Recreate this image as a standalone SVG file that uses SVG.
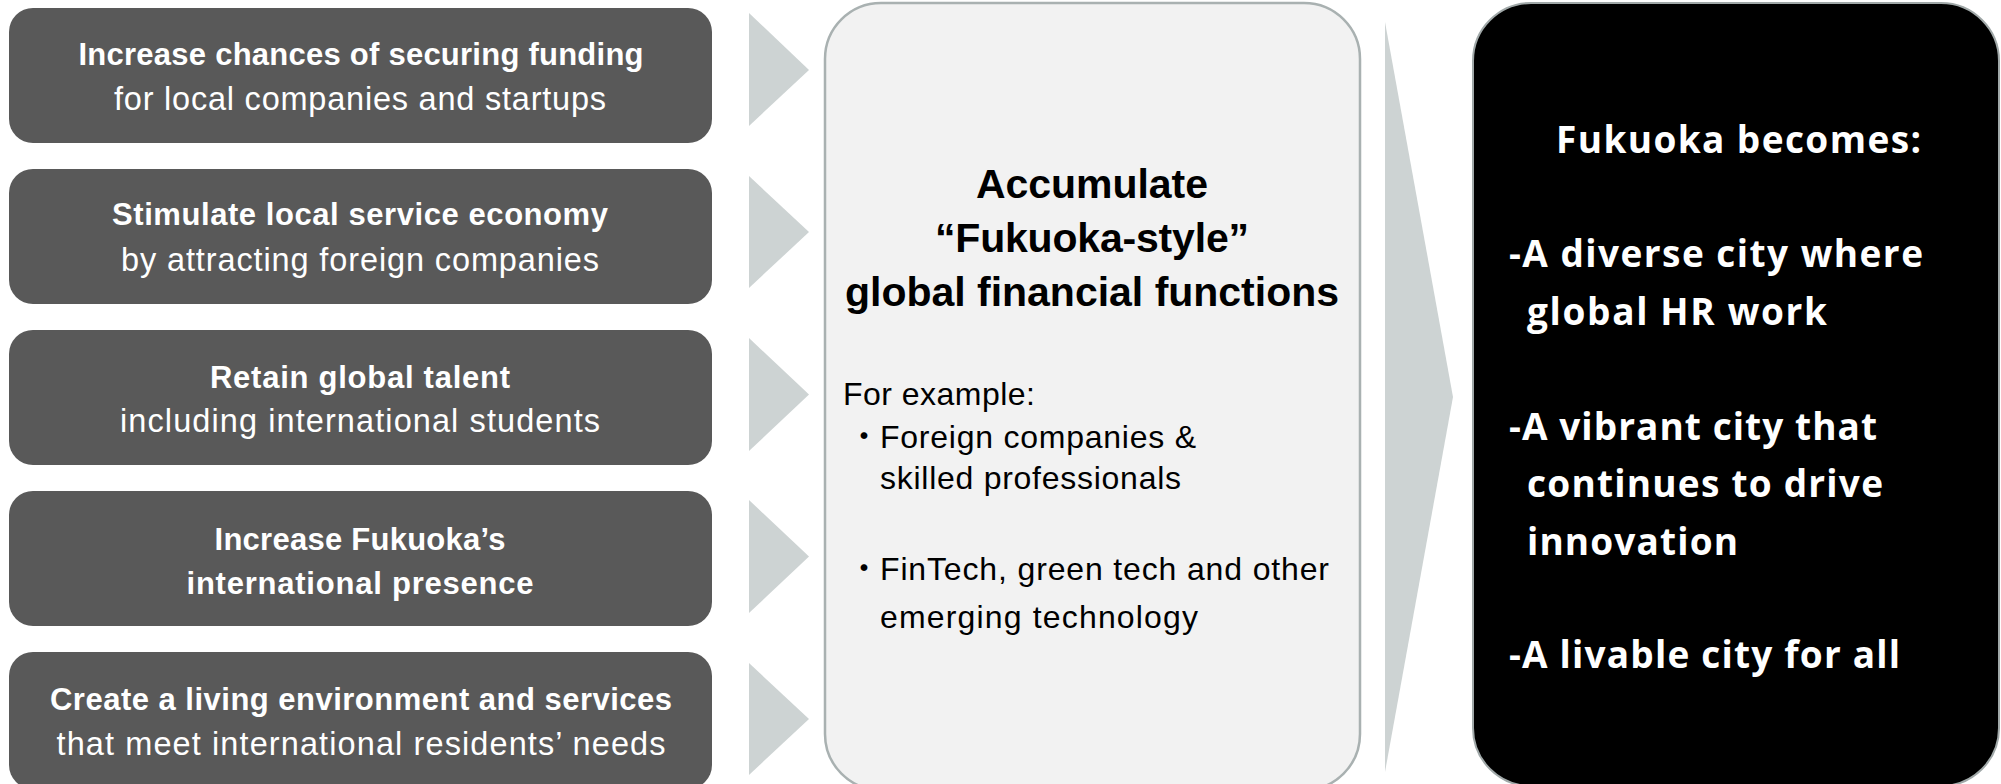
<svg xmlns="http://www.w3.org/2000/svg" width="2001" height="784" viewBox="0 0 2001 784">
<style>
.lbox{fill:#595959;}
.chev{fill:#CDD3D3;}
.lt{font-family:"Liberation Sans",Arial,sans-serif;font-size:32.5px;fill:#FFFFFF;text-anchor:middle;}
.b{font-weight:bold;font-size:31px;}
.mt{font-family:"Liberation Sans",Arial,sans-serif;font-size:41px;font-weight:bold;fill:#000000;text-anchor:middle;}
.mr{font-family:"Liberation Sans","Noto Sans CJK JP",Arial,sans-serif;font-size:32px;fill:#000000;}
.rt{font-family:"Open Sans","DejaVu Sans",sans-serif;font-size:37px;font-weight:bold;fill:#FFFFFF;}
</style>
<rect x="0" y="0" width="2001" height="784" fill="#FFFFFF"/>
<g id="connectors">
<polygon class="chev" points="749,13 809,70 749,126"/>
<polygon class="chev" points="749,176 809,232 749,288"/>
<polygon class="chev" points="749,338 809,394.5 749,451"/>
<polygon class="chev" points="749,500 809,556.5 749,613"/>
<polygon class="chev" points="749,663 809,719 749,775"/>
<polygon class="chev" points="1385,22 1453,397 1385,772"/>
</g>
<g id="box1">
<rect class="lbox" x="9" y="8" width="703" height="135" rx="24"/>
<text class="lt b" x="361" y="65" textLength="565">Increase chances of securing funding</text>
<text class="lt" x="360" y="110" textLength="492">for local companies and startups</text>
</g>
<g id="box2">
<rect class="lbox" x="9" y="169" width="703" height="135" rx="24"/>
<text class="lt b" x="360" y="225" textLength="496">Stimulate local service economy</text>
<text class="lt" x="360" y="271" textLength="478">by attracting foreign companies</text>
</g>
<g id="box3">
<rect class="lbox" x="9" y="330" width="703" height="135" rx="24"/>
<text class="lt b" x="360" y="388" textLength="300">Retain global talent</text>
<text class="lt" x="360" y="432" textLength="480">including international students</text>
</g>
<g id="box4">
<rect class="lbox" x="9" y="491" width="703" height="135" rx="24"/>
<text class="lt b" x="360" y="550" textLength="291">Increase Fukuoka’s</text>
<text class="lt b" x="360" y="594" textLength="347">international presence</text>
</g>
<g id="box5">
<rect class="lbox" x="9" y="652" width="703" height="137" rx="24"/>
<text class="lt b" x="361" y="710" textLength="622">Create a living environment and services</text>
<text class="lt" x="361" y="755" textLength="609">that meet international residents’ needs</text>
</g>
<g id="middle">
<rect x="825" y="3" width="535" height="787" rx="56" fill="#F2F2F2" stroke="#A9B1B1" stroke-width="2.5"/>
<text class="mt" x="1092" y="198" textLength="232">Accumulate</text>
<text class="mt" x="1092" y="252" textLength="314">“Fukuoka-style”</text>
<text class="mt" x="1092" y="306" textLength="494">global financial functions</text>
<text class="mr" x="843" y="405" textLength="192">For example:</text>
<text class="mr" x="848" y="448">・</text>
<text class="mr" x="880" y="448" textLength="316">Foreign companies &amp;</text>
<text class="mr" x="880" y="489" textLength="301">skilled professionals</text>
<text class="mr" x="848" y="580">・</text>
<text class="mr" x="880" y="580" textLength="449">FinTech, green tech and other</text>
<text class="mr" x="880" y="628" textLength="318">emerging technology</text>
</g>
<g id="result">
<rect x="1473" y="3" width="526" height="783" rx="58" fill="#000000" stroke="#A0A8A8" stroke-width="2"/>
<text class="rt" x="1556" y="153" textLength="365">Fukuoka becomes:</text>
<text class="rt" x="1509" y="267" textLength="414">-A diverse city where</text>
<text class="rt" x="1527" y="325" textLength="300">global HR work</text>
<text class="rt" x="1509" y="440" textLength="368">-A vibrant city that</text>
<text class="rt" x="1527" y="497" textLength="356">continues to drive</text>
<text class="rt" x="1527" y="555" textLength="211">innovation</text>
<text class="rt" x="1509" y="668" textLength="391">-A livable city for all</text>
</g>
</svg>
